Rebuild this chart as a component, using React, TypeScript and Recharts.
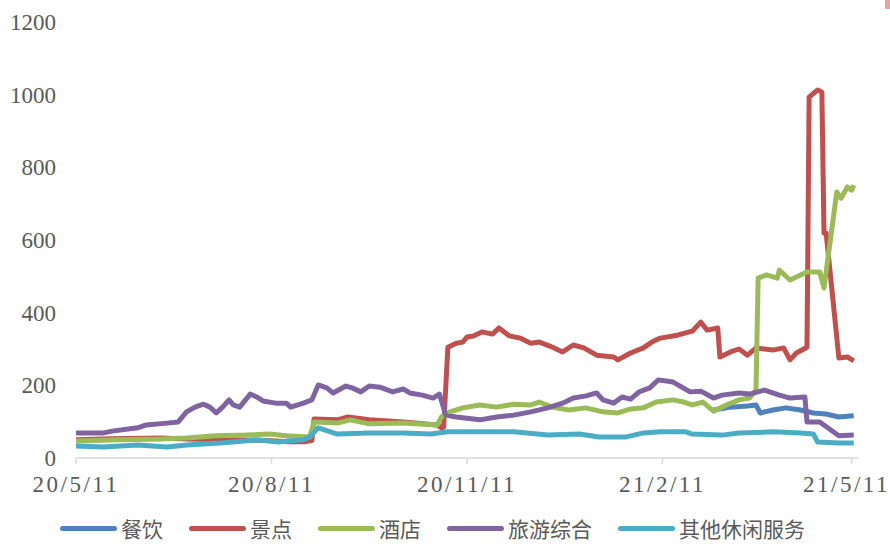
import { Line, LineChart, XAxis, YAxis } from "recharts";

// day 0 = 20/5/11
const tickDays = [0, 92, 184, 276, 365];
const tickLabels = ["20/5/11", "20/8/11", "20/11/11", "21/2/11", "21/5/11"];
const yTicks = [0, 200, 400, 600, 800, 1000, 1200];

// [day, value]
const canyin: [number, number][] = [
  [300, 132], [308, 140], [316, 143], [320, 146], [322, 124], [328, 132],
  [334, 138], [341, 132], [347, 124], [353, 121], [359, 113], [366, 116],
];

const jingdian: [number, number][] = [
  [0, 50], [17, 53], [40, 55], [52, 52], [70, 50], [90, 48], [100, 45],
  [108, 45], [111, 48], [112, 107], [123, 105], [128, 113], [138, 105],
  [154, 99], [170, 91], [172, 83], [173, 85], [175, 305], [179, 316],
  [182, 319], [184, 333], [187, 336], [191, 347], [196, 341], [199, 358],
  [204, 336], [209, 330], [214, 316], [218, 319], [223, 308], [229, 292],
  [234, 311], [239, 303], [245, 283], [253, 278], [255, 270], [261, 289],
  [267, 303], [271, 319], [275, 330], [283, 338], [290, 349], [294, 374],
  [297, 352], [302, 358], [303, 278], [308, 292], [312, 300], [316, 283],
  [320, 303], [328, 297], [333, 303], [336, 270], [339, 289], [344, 305],
  [345, 993], [349, 1013], [351, 1007], [352, 619], [353, 619], [359, 275],
  [363, 278], [366, 267],
];

const jiudian: [number, number][] = [
  [0, 47], [20, 50], [40, 52], [52, 55], [66, 61], [80, 63], [91, 66],
  [99, 61], [110, 58], [112, 99], [123, 96], [129, 105], [138, 94],
  [154, 96], [170, 91], [172, 113], [176, 127], [182, 138], [190, 146],
  [198, 140], [206, 148], [214, 146], [218, 154], [224, 140], [232, 132],
  [240, 138], [248, 127], [255, 124], [261, 135], [267, 138], [273, 154],
  [281, 160], [286, 154], [290, 146], [295, 154], [300, 129], [306, 146],
  [312, 160], [317, 165], [320, 187], [321, 495], [325, 504], [330, 495],
  [331, 517], [336, 490], [339, 498], [344, 512], [350, 512], [352, 468],
  [358, 732], [360, 715], [363, 746], [365, 737], [366, 751],
];

const lvyou: [number, number][] = [
  [0, 69], [13, 69], [17, 74], [29, 83], [33, 91], [43, 96], [48, 99],
  [52, 127], [56, 140], [60, 148], [63, 140], [66, 124], [69, 140],
  [72, 160], [74, 146], [77, 140], [82, 176], [85, 168], [88, 157],
  [94, 151], [99, 151], [101, 140], [107, 151], [111, 160], [114, 201],
  [118, 193], [121, 179], [127, 198], [130, 193], [134, 182], [138, 198],
  [143, 195], [149, 182], [154, 190], [157, 179], [163, 173], [168, 165],
  [171, 176], [174, 118], [179, 113], [190, 105], [198, 113], [206, 118],
  [214, 127], [222, 138], [229, 151], [234, 165], [240, 171], [245, 179],
  [248, 160], [253, 151], [257, 168], [261, 162], [265, 182], [270, 193],
  [274, 215], [281, 209], [289, 182], [294, 184], [300, 165], [304, 173],
  [312, 179], [317, 176], [324, 187], [331, 173], [336, 165], [343, 168],
  [344, 99], [350, 99], [359, 61], [366, 63],
];

const qita: [number, number][] = [
  [0, 33], [13, 30], [29, 36], [43, 30], [52, 36], [68, 41], [85, 50],
  [95, 44], [100, 47], [107, 50], [110, 58], [114, 83], [123, 66],
  [138, 69], [154, 69], [167, 66], [175, 72], [190, 72], [206, 72],
  [222, 63], [237, 66], [246, 58], [259, 58], [267, 69], [275, 72],
  [287, 72], [290, 66], [304, 63], [312, 69], [328, 72], [341, 69],
  [347, 66], [349, 44], [359, 41], [366, 41],
];

const series = [
  { name: "餐饮", color: "#4F81BD", pts: canyin },
  { name: "景点", color: "#C0504D", pts: jingdian },
  { name: "酒店", color: "#9BBB59", pts: jiudian },
  { name: "旅游综合", color: "#8064A2", pts: lvyou },
  { name: "其他休闲服务", color: "#4BACC6", pts: qita },
];

const tickFont = {
  fontFamily: "'Liberation Serif', serif",
  fontSize: 23,
  fill: "#595959",
};

export default function App() {
  return (
    <div style={{ position: "absolute", left: 0, top: 0, width: 890, height: 544, background: "#fff", overflow: "hidden" }}>
      <LineChart width={890} height={544} margin={{ top: 22, right: 32, left: 0, bottom: 56 }}>
        <XAxis
          type="number"
          dataKey="day"
          domain={[0, 368]}
          ticks={tickDays}
          tickFormatter={(d) => tickLabels[tickDays.indexOf(d)] ?? ""}
          tick={{ ...tickFont, letterSpacing: 2.5 }}
          tickSize={6}
          tickMargin={12}
          height={30}
          stroke="#D9D9D9"
          strokeWidth={1.5}
          allowDataOverflow
        />
        <YAxis
          domain={[0, 1200]}
          ticks={yTicks}
          width={76}
          tick={tickFont}
          tickLine={false}
          axisLine={false}
          tickSize={0}
          tickMargin={20}
        />
        {series.map((s) => (
          <Line
            key={s.name}
            data={s.pts.map(([day, v]) => ({ day, v }))}
            dataKey="v"
            name={s.name}
            type="linear"
            stroke={s.color}
            strokeWidth={5}
            strokeLinejoin="round"
            dot={false}
            activeDot={false}
            isAnimationActive={false}
          />
        ))}
      </LineChart>
      <div
        style={{
          position: "absolute",
          left: 60,
          top: 517,
          height: 22,
          display: "flex",
          gap: 26,
          alignItems: "center",
          fontFamily: "'Noto Sans CJK SC', sans-serif",
          fontSize: 21,
          color: "#595959",
          lineHeight: "22px",
        }}
      >
        {series.map((s) => (
          <div key={s.name} style={{ display: "flex", alignItems: "center", height: 22 }}>
            <span
              style={{
                display: "inline-block",
                width: 57,
                height: 5,
                borderRadius: 3,
                background: s.color,
                marginRight: 4,
              }}
            />
            <span>{s.name}</span>
          </div>
        ))}
      </div>
      <div style={{ position: "absolute", left: 885, top: 0, width: 5, height: 9, background: "#E3A6A4" }} />
    </div>
  );
}
